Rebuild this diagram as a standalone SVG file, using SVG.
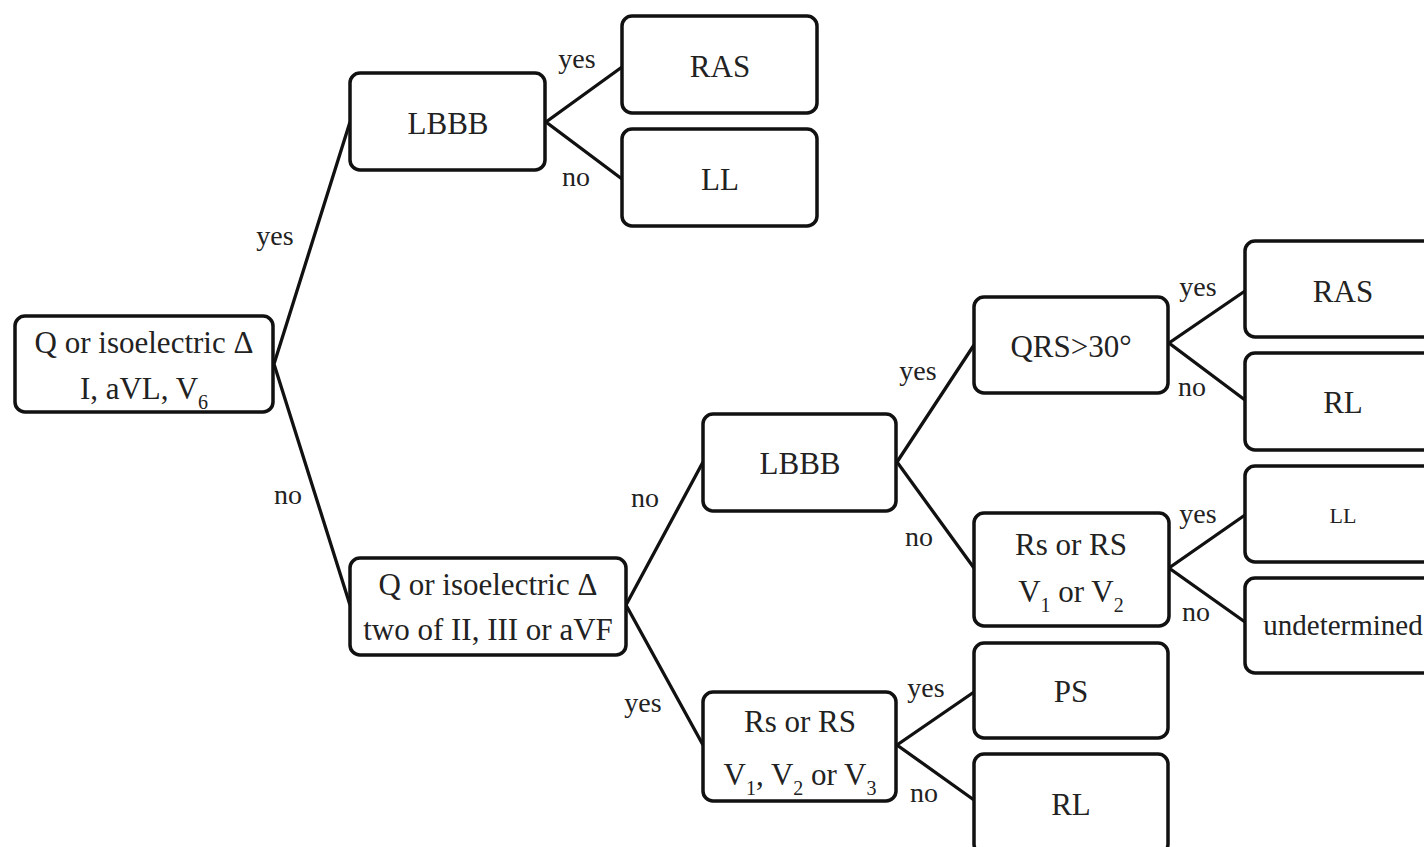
<svg xmlns="http://www.w3.org/2000/svg" width="1424" height="847" viewBox="0 0 1424 847">
<style>
.box{fill:#fff;stroke:#111;stroke-width:3.5}
text{font-family:'Liberation Serif','Tinos','Times New Roman','DejaVu Serif',serif}
.t{font-size:31px;fill:#222;text-anchor:middle}
.s{font-size:20px}
.lb{font-size:28px;fill:#222;text-anchor:middle}
.c{stroke:#111;stroke-width:3.3;fill:none}
</style>
<rect width="1424" height="847" fill="#fff"/>
<g id="connectors">
<polyline class="c" points="350,122 274,364 350,605"/>
<polyline class="c" points="622,67 546,122 622,179"/>
<polyline class="c" points="703,462 626,605 703,745"/>
<polyline class="c" points="974,345 897,462 974,568"/>
<polyline class="c" points="974,692 897,745 974,800"/>
<polyline class="c" points="1245,291 1169,343 1245,400"/>
<polyline class="c" points="1245,515 1169,568 1245,622"/>
<text class="lb" x="275" y="245">yes</text>
<text class="lb" x="288" y="504">no</text>
<text class="lb" x="577" y="68">yes</text>
<text class="lb" x="576" y="186">no</text>
<text class="lb" x="645" y="507">no</text>
<text class="lb" x="643" y="712">yes</text>
<text class="lb" x="918" y="380">yes</text>
<text class="lb" x="919" y="546">no</text>
<text class="lb" x="926" y="697">yes</text>
<text class="lb" x="924" y="802">no</text>
<text class="lb" x="1198" y="296">yes</text>
<text class="lb" x="1192" y="396">no</text>
<text class="lb" x="1198" y="523">yes</text>
<text class="lb" x="1196" y="621">no</text>
</g>
<g id="root">
<rect class="box" x="15" y="316" width="258" height="96" rx="10"/>
<text class="t" x="144" y="353">Q or isoelectric Δ</text>
<text class="t" x="144" y="399">I, aVL, V<tspan class="s" dy="10">6</tspan></text>
</g>
<g id="lbbb1">
<rect class="box" x="350" y="73" width="195" height="97" rx="10"/>
<text class="t" x="448" y="134">LBBB</text>
</g>
<g id="ras1">
<rect class="box" x="622" y="16" width="195" height="97" rx="10"/>
<text class="t" x="720" y="77">RAS</text>
</g>
<g id="ll1">
<rect class="box" x="622" y="129" width="195" height="97" rx="10"/>
<text class="t" x="720" y="190">LL</text>
</g>
<g id="q2">
<rect class="box" x="350" y="558" width="276" height="97" rx="10"/>
<text class="t" x="488" y="595">Q or isoelectric Δ</text>
<text class="t" x="488" y="640">two of II, III or aVF</text>
</g>
<g id="lbbb2">
<rect class="box" x="703" y="414" width="193" height="97" rx="10"/>
<text class="t" x="800" y="474">LBBB</text>
</g>
<g id="rs3">
<rect class="box" x="703" y="692" width="193" height="109" rx="10"/>
<text class="t" x="800" y="732">Rs or RS</text>
<text class="t" x="800" y="785">V<tspan class="s" dy="10">1</tspan><tspan dy="-10">, V</tspan><tspan class="s" dy="10">2</tspan><tspan dy="-10"> or V</tspan><tspan class="s" dy="10">3</tspan></text>
</g>
<g id="qrs">
<rect class="box" x="974" y="297" width="194" height="96" rx="10"/>
<text class="t" x="1071" y="357">QRS&gt;30°</text>
</g>
<g id="rs2">
<rect class="box" x="974" y="513" width="195" height="113" rx="10"/>
<text class="t" x="1071" y="555">Rs or RS</text>
<text class="t" x="1071" y="602">V<tspan class="s" dy="10">1</tspan><tspan dy="-10"> or V</tspan><tspan class="s" dy="10">2</tspan></text>
</g>
<g id="ps">
<rect class="box" x="974" y="643" width="194" height="95" rx="10"/>
<text class="t" x="1071" y="702">PS</text>
</g>
<g id="rl2">
<rect class="box" x="974" y="754" width="194" height="100" rx="10"/>
<text class="t" x="1071" y="815">RL</text>
</g>
<g id="ras2">
<rect class="box" x="1245" y="241" width="200" height="96" rx="10"/>
<text class="t" x="1343" y="302">RAS</text>
</g>
<g id="rl1">
<rect class="box" x="1245" y="353" width="200" height="97" rx="10"/>
<text class="t" x="1343" y="413">RL</text>
</g>
<g id="ll2">
<rect class="box" x="1245" y="466" width="200" height="96" rx="10"/>
<text class="t" x="1343" y="523" style="font-size:22px">LL</text>
</g>
<g id="undet">
<rect class="box" x="1245" y="578" width="200" height="95" rx="10"/>
<text class="t" x="1343" y="635" style="font-size:29px">undetermined</text>
</g>
</svg>
